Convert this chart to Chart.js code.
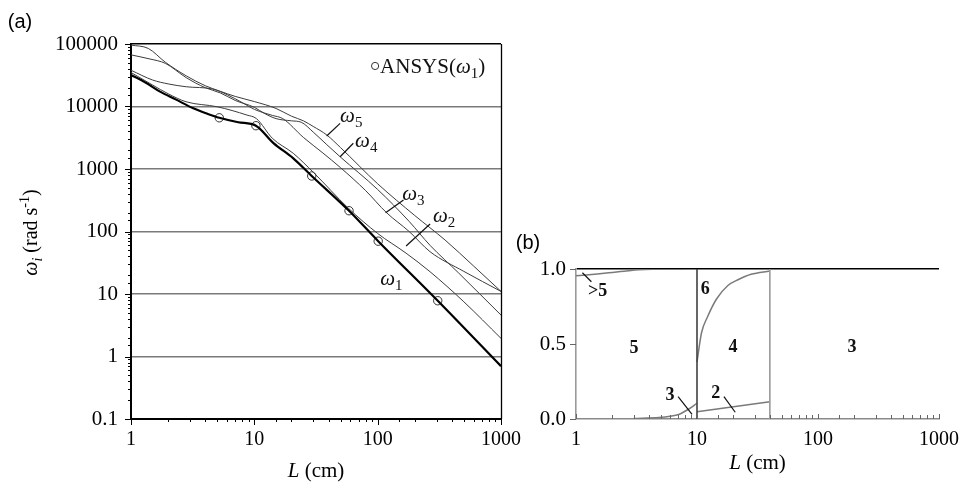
<!DOCTYPE html>
<html>
<head>
<meta charset="utf-8">
<script src="https://cdn.jsdelivr.net/npm/chart.js@4.4.1/dist/chart.umd.min.js"></script>
<style>
  html, body { margin: 0; background: #fff; }
  #wrap { position: relative; width: 968px; height: 485px; }
  #wrap canvas { position: absolute; left: 0; top: 0; }
</style>
</head>
<body>
<div id="wrap">
  <canvas id="freqChart" width="968" height="485"></canvas>
  <canvas id="shareChart" width="968" height="485"></canvas>
</div>
<script>
// tick labels
const lengthTicks = ["1", "10", "100", "1000"];
const omegaTicks = ["0.1", "1", "10", "100", "1000", "10000", "100000"];
const shareTicks = ["0.0", "0.5", "1.0"];

// (a) natural frequencies, L in cm, omega in rad/s
const w1L = [1, 1.3, 1.72, 2.3, 3.2, 4.2, 5.2, 7.4, 10.3, 14.3, 20.7, 29.2, 58.6, 101, 307, 1000];
const w1 = [32000, 24500, 17300, 13000, 9350, 7600, 6600, 5600, 4930, 2600, 1480, 773, 215, 70, 7.8, 0.7];

const w2L = [1, 1.5, 2, 2.8, 5, 8.7, 10.4, 14, 20.7, 30, 58, 100, 170, 266, 500, 1000];
const w2 = [35000, 22000, 16000, 11900, 9900, 7300, 6400, 3100, 1780, 890, 235, 93, 45, 22.7, 7.5, 1.95];

const w3L = [1, 1.5, 2, 2.8, 4.6, 6, 8, 10, 12, 14, 17, 25, 36, 50, 80, 118, 180, 266, 500, 1000];
const w3 = [38000, 26500, 23000, 20700, 19000, 15500, 11500, 9000, 7900, 7200, 6400, 3200, 1800, 1050, 450, 200, 100, 47.5, 23, 11];

const w4L = [1, 1.4, 1.9, 2.8, 4, 5.3, 7, 10, 12, 15, 20, 24, 30, 38.7, 49.6, 100, 180, 266, 450, 1000];
const w4 = [67000, 58000, 49000, 29000, 20000, 16500, 12500, 9700, 7800, 6400, 5900, 5600, 3900, 2450, 1570, 470, 145, 60, 22, 4.6];

const w5L = [1, 1.38, 1.9, 2.8, 4, 5.3, 7, 10, 15, 20, 25, 30, 38.7, 50, 100, 200, 352, 600, 1000];
const w5 = [96000, 85000, 51000, 31000, 21500, 17500, 14500, 12000, 9300, 7000, 5900, 4800, 3500, 2200, 580, 180, 73, 28, 11];

// ANSYS check values for the first mode
const ansysL = [5.2, 10.3, 29.2, 58.6, 101, 307];
const ansysW = [6600, 4930, 773, 215, 70, 7.8];

// (b) fraction curves
const gt5L = [1, 1.5, 2, 2.5, 3.3, 8];
const gt5 = [0.955, 0.967, 0.977, 0.985, 0.995, 1.0];
const m3L = [3, 4.85, 6, 7.06, 8.5, 10];
const m3 = [0.004, 0.01, 0.018, 0.03, 0.065, 0.105];
const m6L = [10, 10.9, 12.2, 14.5, 18, 22, 28, 40];
const m6 = [0.38, 0.575, 0.68, 0.8, 0.89, 0.93, 0.965, 0.987];
const m2L = [10, 20, 40];
const m2 = [0.049, 0.082, 0.115];
const bounds = [10, 40];

const SERIF = '"Liberation Serif", "Times New Roman", serif';
const SANS = '"Liberation Sans", Arial, sans-serif';
const isDecade = v => v > 0 && Math.abs(Math.log10(v) - Math.round(Math.log10(v))) < 1e-6;
const pts = (xs, ys) => xs.map((x, i) => ({ x, y: ys[i] }));

// text with italic / sub / sup runs, y is the baseline
function rich(ctx, parts, x, y, size, align) {
  const fontOf = p => (p.i ? "italic " : "") + (p.b ? "bold " : "") +
    (p.s ? Math.round(size * 0.7) : size) + "px " + SERIF;
  let w = 0;
  parts.forEach(p => { ctx.font = fontOf(p); p.w = ctx.measureText(p.t).width; w += p.w; });
  let cx = align === "center" ? x - w / 2 : align === "right" ? x - w : x;
  ctx.textAlign = "left";
  ctx.textBaseline = "alphabetic";
  parts.forEach(p => {
    ctx.font = fontOf(p);
    const dy = p.s === "sub" ? size * 0.25 : p.s === "sup" ? -size * 0.4 : 0;
    ctx.fillText(p.t, cx, y + dy);
    cx += p.w;
  });
}

function tickMarks(ctx, scale, base, dir, majorLen, minorLen, isMajor) {
  ctx.beginPath();
  scale.ticks.forEach(t => {
    const p = Math.round(scale.getPixelForValue(t.value)) + 0.5;
    const len = isMajor(t.value) ? majorLen : minorLen;
    if (scale.isHorizontal()) { ctx.moveTo(p, base); ctx.lineTo(p, base + dir * len); }
    else { ctx.moveTo(base, p); ctx.lineTo(base + dir * len, p); }
  });
  ctx.stroke();
}

function segment(ctx, x, y, a, b) {
  ctx.beginPath();
  ctx.moveTo(x.getPixelForValue(a[0]), y.getPixelForValue(a[1]));
  ctx.lineTo(x.getPixelForValue(b[0]), y.getPixelForValue(b[1]));
  ctx.stroke();
}

// mode labels and their leaders, in data coordinates
const modeLabels = [
  { L: 49.6, w: 5650, n: "5" }, { L: 65.6, w: 2250, n: "4" },
  { L: 158, w: 319, n: "3" }, { L: 281, w: 142, n: "2" }, { L: 105, w: 13.9, n: "1" }
];
const modeLeaders = [
  [[38.6, 3375], [49.6, 5380]], [[49.6, 1573], [63.5, 2580]],
  [[116, 200], [162, 319]], [[170, 58.6], [266, 132]]
];

const decorFreq = {
  id: "decorFreq",
  afterDraw(chart) {
    const { ctx, chartArea: a, scales: { x, y } } = chart;
    ctx.save();
    ctx.strokeStyle = "#000";
    ctx.lineWidth = 1.3;
    ctx.beginPath();
    ctx.moveTo(a.right + 0.5, a.top);
    ctx.lineTo(a.right + 0.5, a.bottom);
    ctx.stroke();
    ctx.lineWidth = 1;
    tickMarks(ctx, x, a.bottom, 1, 6, 3, isDecade);
    tickMarks(ctx, y, a.left, -1, 6, 3, isDecade);

    ctx.fillStyle = "#111";
    ctx.strokeStyle = "#111";
    ctx.lineWidth = 1.2;
    modeLeaders.forEach(s => segment(ctx, x, y, s[0], s[1]));
    modeLabels.forEach(m => rich(ctx, [{ t: "ω", i: true }, { t: m.n, s: "sub" }],
      x.getPixelForValue(m.L), y.getPixelForValue(m.w), 21, "left"));

    // ANSYS key
    ctx.lineWidth = 1;
    ctx.strokeStyle = "#333";
    ctx.beginPath();
    ctx.arc(x.getPixelForValue(95.3), y.getPixelForValue(44500), 3.6, 0, Math.PI * 2);
    ctx.stroke();
    rich(ctx, [{ t: "ANSYS(" }, { t: "ω", i: true }, { t: "1", s: "sub" }, { t: ")" }],
      x.getPixelForValue(104.6), y.getPixelForValue(34350), 21, "left");

    // axis titles
    ctx.fillStyle = "#000";
    rich(ctx, [{ t: "L", i: true }, { t: " (cm)" }], (a.left + a.right) / 2, a.bottom + 58, 21, "center");
    ctx.translate(37, (a.top + a.bottom) / 2 + 1);
    ctx.rotate(-Math.PI / 2);
    rich(ctx, [{ t: "ω", i: true }, { t: "i", i: true, s: "sub" }, { t: " (rad s" }, { t: "-1", s: "sup" }, { t: ")" }],
      0, 0, 20, "center");
    ctx.setTransform(1, 0, 0, 1, 0, 0);

    ctx.font = "20px " + SANS;
    ctx.textAlign = "center";
    ctx.textBaseline = "middle";
    ctx.fillText("(a)", 20, 22);
    ctx.fillText("(b)", 528, 243);
    ctx.restore();
  }
};

const thin = { borderColor: "#3c3c3c", borderWidth: 1 };

new Chart(document.getElementById("freqChart"), {
  type: "line",
  data: {
    datasets: [
      { data: pts(w5L, w5), ...thin },
      { data: pts(w4L, w4), ...thin },
      { data: pts(w3L, w3), ...thin },
      { data: pts(w2L, w2), ...thin },
      { data: pts(w1L, w1), borderColor: "#000", borderWidth: 2.2 },
      {
        data: pts(ansysL, ansysW), showLine: false, pointRadius: 4.2, pointBorderWidth: 1,
        pointBorderColor: "#333", pointBackgroundColor: "rgba(0,0,0,0)"
      }
    ]
  },
  options: {
    responsive: false,
    animation: false,
    layout: { padding: { left: 0, top: 44, right: 467, bottom: 0 } },
    elements: { point: { radius: 0 }, line: { cubicInterpolationMode: "monotone", fill: false } },
    plugins: { legend: { display: false }, tooltip: { enabled: false } },
    scales: {
      x: {
        type: "logarithmic", min: 1, max: 1000,
        afterFit: s => { s.height = 66; },
        grid: { display: true, drawOnChartArea: false, drawTicks: false },
        border: { display: true, color: "#000", width: 2 },
        ticks: {
          autoSkip: false, maxRotation: 0, padding: 9, color: "#000",
          font: { family: SERIF, size: 20 },
          callback: v => isDecade(v) ? lengthTicks[Math.round(Math.log10(v))] : ""
        }
      },
      y: {
        type: "logarithmic", min: 0.1, max: 100000,
        afterFit: s => { s.width = 131; },
        grid: {
          drawTicks: false,
          color: c => !isDecade(c.tick.value) ? "rgba(0,0,0,0)" : c.tick.value >= 1e5 ? "#000" : "#7a7a7a",
          lineWidth: c => isDecade(c.tick.value) ? 1.5 : 0
        },
        border: { display: true, color: "#000", width: 2 },
        ticks: {
          autoSkip: false, padding: 13, color: "#000",
          font: { family: SERIF, size: 21 },
          callback: v => isDecade(v) ? omegaTicks[Math.round(Math.log10(v)) + 1] : ""
        }
      }
    }
  },
  plugins: [decorFreq]
});

// (b) region labels, in data coordinates
const regionLabels = [
  { L: 1.508, v: 0.849, t: ">5" }, { L: 3.01, v: 0.473, t: "5" }, { L: 11.7, v: 0.865, t: "6" },
  { L: 19.8, v: 0.475, t: "4" }, { L: 191, v: 0.475, t: "3" }, { L: 5.98, v: 0.16, t: "3" },
  { L: 14.3, v: 0.171, t: "2" }
];
const regionLeaders = [
  [[1.13, 0.975], [1.34, 0.915]], [[6.98, 0.149], [9.1, 0.031]], [[16.7, 0.149], [20.7, 0.045]]
];

const decorShare = {
  id: "decorShare",
  afterDraw(chart) {
    const { ctx, chartArea: a, scales: { x, y } } = chart;
    ctx.save();
    ctx.lineWidth = 1;
    ctx.strokeStyle = "#666";
    tickMarks(ctx, x, a.bottom, -1, 5, 4, isDecade);
    tickMarks(ctx, y, a.left, -1, 6, 6, () => true);

    ctx.strokeStyle = "#111";
    ctx.lineWidth = 1.2;
    regionLeaders.forEach(s => segment(ctx, x, y, s[0], s[1]));
    ctx.fillStyle = "#111";
    ctx.font = "bold 18px " + SERIF;
    ctx.textAlign = "center";
    ctx.textBaseline = "middle";
    regionLabels.forEach(r => ctx.fillText(r.t, x.getPixelForValue(r.L), y.getPixelForValue(r.v)));

    ctx.fillStyle = "#000";
    rich(ctx, [{ t: "L", i: true }, { t: " (cm)" }], (a.left + a.right) / 2, a.bottom + 50, 21, "center");
    ctx.restore();
  }
};

const grey = { borderColor: "#7a7a7a", borderWidth: 1.5 };

new Chart(document.getElementById("shareChart"), {
  type: "line",
  data: {
    datasets: [
      { data: pts([bounds[0], bounds[0]], [0, 1]), borderColor: "#404040", borderWidth: 1.6 },
      { data: pts([bounds[1], bounds[1]], [0, 1]), borderColor: "#9a9a9a", borderWidth: 1.6 },
      { data: pts(gt5L, gt5), ...grey },
      { data: pts(m3L, m3), ...grey },
      { data: pts(m6L, m6), ...grey },
      { data: pts(m2L, m2), ...grey }
    ]
  },
  options: {
    responsive: false,
    animation: false,
    layout: { padding: { left: 0, top: 269, right: 22, bottom: 0 } },
    elements: { point: { radius: 0 }, line: { cubicInterpolationMode: "monotone", fill: false } },
    plugins: { legend: { display: false }, tooltip: { enabled: false } },
    scales: {
      x: {
        type: "logarithmic", min: 1, max: 1000,
        afterFit: s => { s.height = 66; },
        grid: { display: true, drawOnChartArea: false, drawTicks: false },
        border: { display: true, color: "#8a8a8a", width: 1.6 },
        ticks: {
          autoSkip: false, maxRotation: 0, padding: 9, color: "#000",
          font: { family: SERIF, size: 20 },
          callback: v => isDecade(v) ? lengthTicks[Math.round(Math.log10(v))] : ""
        }
      },
      y: {
        type: "linear", min: 0, max: 1,
        afterFit: s => { s.width = 576; },
        grid: {
          drawTicks: false,
          color: c => c.tick.value === 1 ? "#000" : "rgba(0,0,0,0)",
          lineWidth: c => c.tick.value === 1 ? 1.5 : 0
        },
        border: { display: true, color: "#9a9a9a", width: 1.6 },
        ticks: {
          stepSize: 0.5, padding: 10, color: "#000",
          font: { family: SERIF, size: 21 },
          callback: v => shareTicks[Math.round(v / 0.5)]
        }
      }
    }
  },
  plugins: [decorShare]
});
</script>
</body>
</html>
